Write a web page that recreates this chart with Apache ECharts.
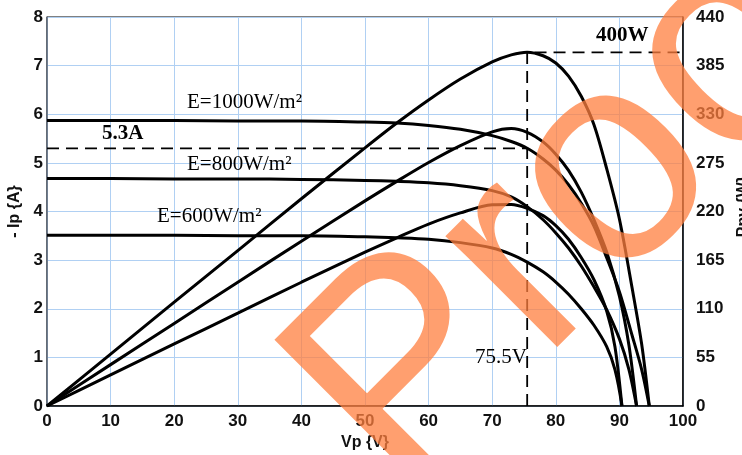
<!DOCTYPE html>
<html>
<head>
<meta charset="utf-8">
<script src="https://cdn.jsdelivr.net/npm/echarts@6/dist/echarts.min.js"></script>
<style>
html,body{margin:0;padding:0;background:#fff;}
#chart{width:742px;height:455px;}
</style>
</head>
<body>
<div id="chart"></div>
<script>
// ---- data ----
const voltage1000 = [0,10,20,30,40,50,55,60,65,70,73,75.5,78,80,82,84,86,88,90,92,93.5,94.7];
const current1000 = [5.87,5.87,5.87,5.86,5.86,5.84,5.82,5.77,5.69,5.56,5.44,5.3,5.08,4.85,4.55,4.17,3.7,3.05,2.35,1.45,0.75,0];
const power1000   = [0,58.7,117.4,175.8,234.4,292,320.1,346.2,369.9,389.2,397.1,400.2,396.2,388,373.1,350.3,318.2,268.4,211.5,133.4,70.1,0];

const voltage800 = [0,10,20,30,40,50,55,60,65,70,73,75.5,78,80,82,84,86,88,90,91.5,92.7];
const current800 = [4.68,4.68,4.67,4.67,4.66,4.64,4.62,4.59,4.53,4.43,4.3,4.1,3.83,3.56,3.25,2.88,2.45,1.98,1.38,0.75,0];
const power800   = [0,46.8,93.4,140.1,186.4,232,254.1,275.4,294.5,310.1,313.9,309.6,298.7,284.8,266.5,241.9,210.7,174.2,124.2,68.6,0];

const voltage600 = [0,10,20,30,40,50,55,60,65,70,73,75.5,78,80,82,84,86,88,89.3,90.4];
const current600 = [3.51,3.51,3.51,3.5,3.5,3.48,3.46,3.43,3.36,3.25,3.12,2.96,2.76,2.55,2.3,2.0,1.66,1.22,0.75,0];
const power600   = [0,35.1,70.2,105,140,174,190.3,205.8,218.4,227.5,227.8,223.5,215.3,204,188.6,168,142.8,107.4,67,0];

const mppVoltage = 75.5;
const mppCurrent = 5.3;
const mppPower = 400;
const xMax = 100;

const xTicks = [0,10,20,30,40,50,60,70,80,90,100];
const currentTicks = [0,1,2,3,4,5,6,7,8];
const powerTicks = [0,55,110,165,220,275,330,385,440];

const annotations = ['E=1000W/m²','E=800W/m²','E=600W/m²','5.3A','400W','75.5V'];
const watermark = 'Proof';

// ---- build ----
const zip = (xs, ys) => xs.map((x, i) => [x, ys[i]]);
const curveStyle = { color: '#000', width: 3 };
function curve(name, xs, ys, axis) {
  return {
    name, type: 'line', yAxisIndex: axis, data: zip(xs, ys),
    showSymbol: false, symbol: 'none', smooth: 0.3,
    lineStyle: curveStyle, z: 3, silent: true
  };
}
const dashStyle = { color: '#000', width: 1.8, type: [12, 7] };

const chart = echarts.init(document.getElementById('chart'), null, { renderer: 'canvas' });
const labelFont = { fontFamily: 'Liberation Sans', fontWeight: 'bold', fontSize: 17, color: '#111' };
const serif = 'Liberation Serif';

chart.setOption({
  animation: false,
  backgroundColor: '#fff',
  grid: { left: 47, right: 59, top: 17, bottom: 49, show: true, borderColor: '#000', borderWidth: 1,
          containLabel: false, outerBoundsMode: 'none' },
  xAxis: {
    type: 'value', min: xTicks[0], max: xTicks[xTicks.length - 1], interval: xTicks[1] - xTicks[0],
    name: 'Vp {V}', nameLocation: 'middle', nameGap: 28,
    nameTextStyle: { fontFamily: 'Liberation Sans', fontWeight: 'bold', fontSize: 16, color: '#111' },
    axisLine: { lineStyle: { color: '#000', width: 1.5 } },
    axisTick: { show: false },
    axisLabel: Object.assign({ margin: 7 }, labelFont),
    splitLine: { show: true, lineStyle: { color: '#b0d0f3', width: 1 } }
  },
  yAxis: [
    {
      type: 'value', min: currentTicks[0], max: currentTicks[currentTicks.length - 1], interval: 1,
      name: '- Ip {A}', nameLocation: 'middle', nameGap: 24, nameRotate: 90,
      nameTextStyle: { fontFamily: 'Liberation Sans', fontWeight: 'bold', fontSize: 16, color: '#111' },
      axisLine: { show: true, lineStyle: { color: '#5b6472', width: 1.5 } },
      axisTick: { show: false },
      axisLabel: Object.assign({ margin: 4 }, labelFont),
      splitLine: { show: true, lineStyle: { color: '#b0d0f3', width: 1 } }
    },
    {
      type: 'value', position: 'right', min: powerTicks[0], max: powerTicks[powerTicks.length - 1], interval: 55,
      name: '- Ppv {W}', nameLocation: 'middle', nameGap: 37, nameRotate: 90,
      nameTextStyle: { fontFamily: 'Liberation Sans', fontWeight: 'bold', fontSize: 16, color: '#111' },
      axisLine: { show: true, lineStyle: { color: '#000', width: 1.5 } },
      axisTick: { show: false },
      axisLabel: Object.assign({ margin: 13 }, labelFont),
      splitLine: { show: false }
    }
  ],
  series: [
    curve('I 1000', voltage1000, current1000, 0),
    curve('I 800', voltage800, current800, 0),
    curve('I 600', voltage600, current600, 0),
    curve('P 1000', voltage1000, power1000, 1),
    curve('P 800', voltage800, power800, 1),
    curve('P 600', voltage600, power600, 1),
    { type: 'line', yAxisIndex: 0, data: [[0, mppCurrent], [mppVoltage, mppCurrent]],
      showSymbol: false, symbol: 'none', lineStyle: dashStyle, z: 2, silent: true },
    { type: 'line', yAxisIndex: 1, data: [[mppVoltage, 0], [mppVoltage, mppPower], [xMax, mppPower]],
      showSymbol: false, symbol: 'none', lineStyle: dashStyle, z: 2, silent: true }
  ],
  graphic: [
    { type: 'text', left: 187, top: 92, style: { text: annotations[0], font: '21px "' + serif + '"', fill: '#000' }, z: 10 },
    { type: 'text', left: 187, top: 154, style: { text: annotations[1], font: '21px "' + serif + '"', fill: '#000' }, z: 10 },
    { type: 'text', left: 157, top: 206, style: { text: annotations[2], font: '21px "' + serif + '"', fill: '#000' }, z: 10 },
    { type: 'text', left: 102, top: 123, style: { text: annotations[3], font: 'bold 21px "' + serif + '"', fill: '#000' }, z: 10 },
    { type: 'text', left: 596, top: 25, style: { text: annotations[4], font: 'bold 21px "' + serif + '"', fill: '#000' }, z: 10 },
    { type: 'text', left: 475, top: 347, style: { text: annotations[5], font: '21px "' + serif + '"', fill: '#000' }, z: 10 },
    { type: 'text', x: 344, y: 444, rotation: Math.PI / 4,
      style: { text: watermark, font: '298px "Liberation Sans"', fill: '#ff7f3f', opacity: 0.75,
               textAlign: 'left', textVerticalAlign: 'middle' }, z: 100, silent: true }
  ]
});
</script>
</body>
</html>
